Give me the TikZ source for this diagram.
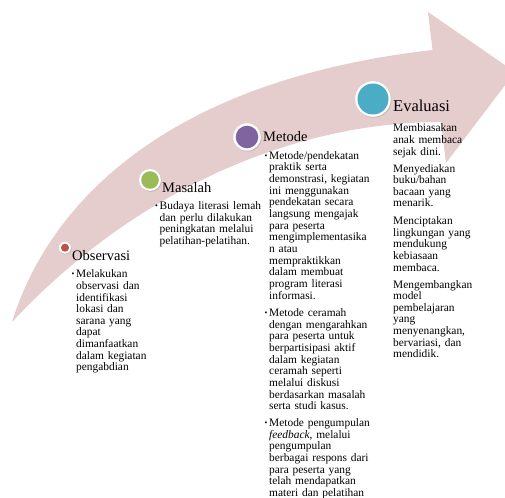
\documentclass[tikz,border=0pt]{standalone}
\usepackage{fontspec}
\setmainfont{Liberation Serif}
\usetikzlibrary{shadows}
\definecolor{arrowpink}{RGB}{229,204,205}
\definecolor{cred}{RGB}{192,80,77}
\definecolor{cgreen}{RGB}{155,187,89}
\definecolor{cpurple}{RGB}{128,100,162}
\definecolor{cblue}{RGB}{75,172,198}
\tikzset{
  ring/.style={circle, fill=white, inner sep=0pt, drop shadow={opacity=0.3,shadow xshift=0.7pt,shadow yshift=-0.9pt}},
  dot/.style={circle, inner sep=0pt},
  ttl/.style={anchor=base west, inner sep=0pt, font=\fontsize{14.5}{16}\selectfont},
  body/.style={anchor=base west, inner sep=0pt, text width=130pt, align=left, font=\fontsize{11.4}{11.65}\selectfont},
  bul/.style={anchor=base west, inner sep=0pt, font=\fontsize{8}{8}\selectfont},
}
\begin{document}
\begin{tikzpicture}[x=1pt,y=-1pt]
\useasboundingbox (0,0) rectangle (505,497);
% arrow
\fill[arrowpink] (12,322) .. controls (50,200) and (170,80) .. (432.5,50)
  -- (428,12) -- (515,72) -- (446,163) -- (441,122)
  .. controls (300,122) and (140,185) .. (12,322) -- cycle;
% circles
\node[ring, minimum size=12pt] (r1) at (65,247.7) {};
\node[dot, fill=cred, minimum size=8pt] (d1) at (r1) {};
\node[ring, minimum size=22pt] (r2) at (150,180) {};
\node[dot, fill=cgreen, minimum size=17.6pt] (d2) at (r2) {};
\node[ring, minimum size=27.5pt] (r3) at (247,137) {};
\node[dot, fill=cpurple, minimum size=22.6pt] (d3) at (r3) {};
\node[ring, minimum size=35.6pt] (r4) at (373,99) {};
\node[dot, fill=cblue, minimum size=31pt] (d4) at (r4) {};
% titles
\node[ttl] (t1) at (72,260) {Observasi};
\node[ttl] (t2) at (162,192) {Masalah};
\node[ttl] (t3) at (263,141.5) {Metode};
\node[ttl, font=\fontsize{16.5}{18}\selectfont] (t4) at (393,112) {Evaluasi};
% Observasi
\node[bul] (b1) at (71.5,277.7) {\raisebox{0.8pt}{•}};
\node[body] (o1) at (76,277.7) {Melakukan\\observasi dan\\identifikasi\\lokasi dan\\sarana yang\\dapat\\dimanfaatkan\\dalam kegiatan\\pengabdian};
% Masalah
\node[bul] (b2) at (155,209.5) {\raisebox{0.8pt}{•}};
\node[body] (m1) at (159.5,209.5) {Budaya literasi lemah\\dan perlu dilakukan\\peningkatan melalui\\pelatihan-pelatihan.};
% Metode
\node[bul] (b3) at (264.5,159.3) {\raisebox{0.8pt}{•}};
\node[body] (e1) at (269,159.3) {Metode/pendekatan\\praktik serta\\demonstrasi, kegiatan\\ini menggunakan\\pendekatan secara\\langsung mengajak\\para peserta\\mengimplementasika\\n atau\\mempraktikkan\\dalam membuat\\program literasi\\informasi.};
\node[bul] (b4) at (264.5,316.5) {\raisebox{0.8pt}{•}};
\node[body] (e2) at (269,316.5) {Metode ceramah\\dengan mengarahkan\\para peserta untuk\\berpartisipasi aktif\\dalam kegiatan\\ceramah seperti\\melalui diskusi\\berdasarkan masalah\\serta studi kasus.};
\node[bul] (b5) at (264.5,426.5) {\raisebox{0.8pt}{•}};
\node[body] (e3) at (269,426.5) {Metode pengumpulan\\\textit{feedback}, melalui\\pengumpulan\\berbagai respons dari\\para peserta yang\\telah mendapatkan\\materi dan pelatihan};
% Evaluasi
\node[body] (v1) at (393,131.7) {Membiasakan\\anak membaca\\sejak dini.};
\node[body] (v2) at (393,172) {Menyediakan\\buku/bahan\\bacaan yang\\menarik.};
\node[body] (v3) at (393,224.5) {Menciptakan\\lingkungan yang\\mendukung\\kebiasaan\\membaca.};
\node[body] (v4) at (393,288) {Mengembangkan\\model\\pembelajaran\\yang\\menyenangkan,\\bervariasi, dan\\mendidik.};
\end{tikzpicture}
\end{document}
